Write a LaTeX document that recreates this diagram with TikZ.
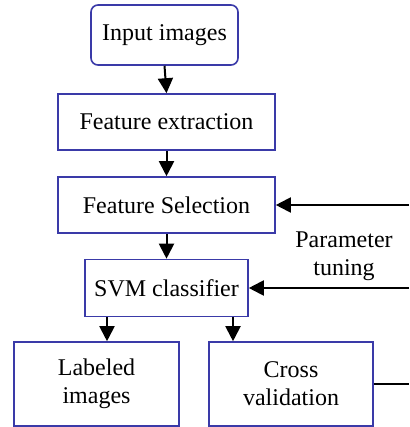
\documentclass[tikz,border=0pt]{standalone}
\usepackage{fontspec}
\setmainfont{Liberation Serif}
\newfontfamily\tnrfont{Liberation Serif}
\usetikzlibrary{arrows.meta}
\definecolor{boxblue}{HTML}{3A3AA8}
\tikzset{
  txt/.style={font=\tnrfont\fontsize{24}{28}\selectfont},
  box/.style={draw=boxblue, line width=1.6pt, fill=white, inner sep=0pt, align=center, txt},
  arr/.style={draw=black, line width=2pt, -{Triangle[width=15pt,length=15pt]}},
  ln/.style={draw=black, line width=2pt}
}
\begin{document}
\begin{tikzpicture}[x=1pt,y=-1pt]
\useasboundingbox (0,0) rectangle (409,427);
\node[box, rounded corners=7pt, minimum width=147pt, minimum height=60pt] (inp) at (164.5,35) {Input images};
\node[box, minimum width=217pt, minimum height=56pt] (fe) at (166.5,122) {Feature extraction};
\node[box, minimum width=217pt, minimum height=56pt] (fs) at (166.5,205) {Feature Selection};
\node[box, minimum width=163pt, minimum height=57pt] (svm) at (166.5,288) {SVM classifier};
\node[box, minimum width=165pt, minimum height=84pt] (lab) at (96.5,384) {Labeled\\images};
\node[box, minimum width=164pt, minimum height=84pt] (cv) at (291,384) {Cross\\validation};
\node[txt, align=center] (pt) at (344,256) {Parameter\\tuning};
\coordinate (r1) at (409,205);
\coordinate (r2) at (409,288);
\coordinate (r3) at (409,384);
\draw[arr] (inp.south) -- (fe.north);
\draw[arr] (fe.south) -- (fs.north);
\draw[arr] (fs.south) -- (svm.north);
\draw[arr] ([xshift=-59.5pt]svm.south) -- ([xshift=10.5pt]lab.north);
\draw[arr] ([xshift=66.5pt]svm.south) -- ([xshift=-58pt]cv.north);
\draw[arr] (r1) -- (fs.east);
\draw[arr] (r2) -- (svm.east);
\draw[ln] (cv.east) -- (r3);
\end{tikzpicture}
\end{document}
